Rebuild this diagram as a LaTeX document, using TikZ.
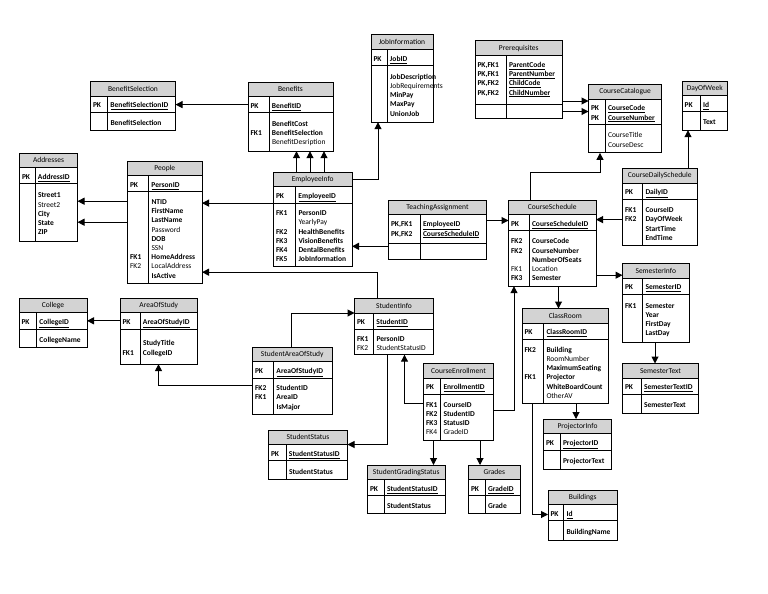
\documentclass[tikz,border=0pt]{standalone}
\usepackage{fontspec}
\setmainfont{Carlito}
\usepackage{tikz}
\usetikzlibrary{arrows.meta}

\definecolor{headGray}{RGB}{211,211,211}

%% key field (bold, underlined)
\newcommand{\pkey}[1]{\textbf{\underline{#1}}}
%% two columns: key labels | field names
\newcommand{\erCols}[2]{\raisebox{-2pt}[\height][\depth]{\begin{tabular}{@{\hspace{2.5pt}}p{\dimexpr#1pt-2.5pt\relax}@{\hspace{3pt}}l@{}}#2\end{tabular}}}
%% name, x, y, width, divider, title, key rows, body rows, body height
\newcommand{\erTable}[9]{%
    \node[erHead, minimum width=#4pt] (#1) at (#2,#3) {#6};
    \node[erRow, text width=#4pt] (#1-k) at (#1.south west) {\erCols{#5}{#7}};
    \node[erRow, text width=#4pt, minimum height=#9pt] (#1-b) at (#1-k.south west) {\erCols{#5}{#8}};
    \draw[erLine] ([xshift=#5]#1-k.north west) -- ([xshift=#5]#1-b.south west);
}

\begin{document}
\begin{tikzpicture}
[x=1pt, y=-1pt,
    font=\fontsize{7.5}{9.2}\selectfont,
    erHead/.style={draw, fill=headGray, line width=1pt, minimum height=14.5pt, inner sep=0pt, outer sep=0pt, anchor=north west},%
    erRow/.style={draw, line width=1pt, inner xsep=0pt, inner ysep=3.5pt, outer sep=0pt, minimum height=16pt, align=left, anchor=north west},%
    erLine/.style={line width=1pt},%
    erLink/.style={line width=1pt, -{Triangle[length=7pt,width=7pt]}}]
    \useasboundingbox (0,0) rectangle (768,594);

    %% employee side
    \erTable{bsel}{90.5}{81.5}{85}{17}{BenefitSelection}{\textbf{PK} & \pkey{BenefitSelectionID}}{ & \textbf{BenefitSelection}}{18.5}
    \erTable{benefits}{248}{82}{85}{21}{Benefits}{\textbf{PK} & \pkey{BenefitID}}{ & \textbf{BenefitCost}\\ \textbf{FK1} & \textbf{BenefitSelection}\\ & BenefitDesription}{38.5}
    \erTable{jobinfo}{371}{35}{62}{16}{JobInformation}{\textbf{PK} & \pkey{JobID}}{ & \textbf{JobDescription}\\ & JobRequirements\\ & \textbf{MinPay}\\ & \textbf{MaxPay}\\ & \textbf{UnionJob}}{56.5}
    \erTable{addr}{19.5}{153}{58}{15.5}{Addresses}{\textbf{PK} & \pkey{AddressID}}{ & \textbf{Street1}\\ & Street2\\ & \textbf{City}\\ & \textbf{State}\\ & \textbf{ZIP}}{57.5}
    \erTable{people}{127.5}{161}{74.5}{21}{People}{\textbf{PK} & \pkey{PersonID}}{ & \textbf{NTID}\\ & \textbf{FirstName}\\ & \textbf{LastName}\\ & Password\\ & \textbf{DOB}\\ & SSN\\ \textbf{FK1} & \textbf{HomeAddress}\\ FK2 & LocalAddress\\ & \textbf{IsActive}}{91.5}
    \erTable{empinfo}{273.5}{172}{78.5}{22}{EmployeeInfo}{\textbf{PK} & \pkey{EmployeeID}}{\textbf{FK1} & \textbf{PersonID}\\ & YearlyPay\\ \textbf{FK2} & \textbf{HealthBenefits}\\ \textbf{FK3} & \textbf{VisionBenefits}\\ \textbf{FK4} & \textbf{DentalBenefits}\\ \textbf{FK5} & \textbf{JobInformation}}{63.5}
    \erTable{teach}{388.5}{200}{98}{31.5}{TeachingAssignment}{\textbf{PK,FK1} & \pkey{EmployeeID}\\ \textbf{PK,FK2} & \pkey{CourseScheduleID}\\[3pt]}{}{16}

    %% course side
    \erTable{prereq}{475}{41}{87.5}{31}{Prerequisites}{\textbf{PK,FK1} & \pkey{ParentCode}\\ \textbf{PK,FK1} & \pkey{ParentNumber}\\ \textbf{PK,FK2} & \pkey{ChildCode}\\ \textbf{PK,FK2} & \pkey{ChildNumber}\\[5pt]}{}{14}
    \erTable{ccat}{588.5}{84.5}{73}{16.5}{CourseCatalogue}{\textbf{PK} & \pkey{CourseCode}\\ \textbf{PK} & \pkey{CourseNumber}}{ & CourseTitle\\ & CourseDesc}{28.5}
    \erTable{dow}{682}{81}{45.5}{18}{DayOfWeek}{\textbf{PK} & \pkey{Id}}{ & \textbf{Text}}{18.5}
    \erTable{csched}{508.5}{200}{87.5}{20.5}{CourseSchedule}{\textbf{PK} & \pkey{CourseScheduleID}}{\textbf{FK2} & \textbf{CourseCode}\\ \textbf{FK2} & \textbf{CourseNumber}\\ & \textbf{NumberOfSeats}\\ FK1 & Location\\ \textbf{FK3} & \textbf{Semester}}{55.5}
    \erTable{cdaily}{622.5}{168.5}{74.5}{20}{CourseDailySchedule}{\textbf{PK} & \pkey{DailyID}}{\textbf{FK1} & \textbf{CourseID}\\ \textbf{FK2} & \textbf{DayOfWeek}\\ & \textbf{StartTime}\\ & \textbf{EndTime}}{46}
    \erTable{seminfo}{622.5}{263.5}{66.5}{20}{SemesterInfo}{\textbf{PK} & \pkey{SemesterID}}{\textbf{FK1} & \textbf{Semester}\\ & \textbf{Year}\\ & \textbf{FirstDay}\\ & \textbf{LastDay}}{48}
    \erTable{semtext}{622.5}{363.5}{76}{18.5}{SemesterText}{\textbf{PK} & \pkey{SemesterTextID}}{ & \textbf{SemesterText}}{19}
    \erTable{classroom}{522}{308.5}{86.5}{21.5}{ClassRoom}{\textbf{PK} & \pkey{ClassRoomID}}{\textbf{FK2} & \textbf{Building}\\ & RoomNumber\\ & \textbf{MaximumSeating}\\ \textbf{FK1} & \textbf{Projector}\\ & \textbf{WhiteBoardCount}\\ & OtherAV}{64.5}
    \erTable{projinfo}{543.5}{419}{68}{16.5}{ProjectorInfo}{\textbf{PK} & \pkey{ProjectorID}}{ & \textbf{ProjectorText}}{19}
    \erTable{buildings}{548}{490}{69.5}{15.5}{Buildings}{\textbf{PK} & \pkey{Id}}{ & \textbf{BuildingName}}{19.5}

    %% student side
    \erTable{college}{19}{298}{68}{17.5}{College}{\textbf{PK} & \pkey{CollegeID}}{ & \textbf{CollegeName}}{18.5}
    \erTable{aos}{120}{298}{77.5}{20}{AreaOfStudy}{\textbf{PK} & \pkey{AreaOfStudyID}}{ & \textbf{StudyTitle}\\ \textbf{FK1} & \textbf{CollegeID}}{35}
    \erTable{stuinfo}{354.5}{298.5}{79}{19}{StudentInfo}{\textbf{PK} & \pkey{StudentID}}{\textbf{FK1} & \textbf{PersonID}\\ FK2 & StudentStatusID}{25.5}
    \erTable{saos}{252.5}{347}{79.5}{21}{StudentAreaOfStudy}{\textbf{PK} & \pkey{AreaOfStudyID}}{\textbf{FK2} & \textbf{StudentID}\\ \textbf{FK1} & \textbf{AreaID}\\ & \textbf{IsMajor}}{36}
    \erTable{enroll}{423.5}{363.5}{70}{17}{CourseEnrollment}{\textbf{PK} & \pkey{EnrollmentID}}{\textbf{FK1} & \textbf{CourseID}\\ \textbf{FK2} & \textbf{StudentID}\\ \textbf{FK3} & \textbf{StatusID}\\ FK4 & GradeID}{46}
    \erTable{studstatus}{268.5}{430}{79}{17.5}{StudentStatus}{\textbf{PK} & \pkey{StudentStatusID}}{ & \textbf{StudentStatus}}{19}
    \erTable{gradstatus}{367.5}{465}{77.5}{16.5}{StudentGradingStatus}{\textbf{PK} & \pkey{StudentStatusID}}{ & \textbf{StudentStatus}}{18}
    \erTable{grades}{468.5}{465}{51.5}{16.5}{Grades}{\textbf{PK} & \pkey{GradeID}}{ & \textbf{Grade}}{18}

    %% employee links
    \draw[erLink] (benefits-k.west) -- (benefits-k.west -| bsel-k.east);
    \coordinate (pa1) at ([yshift=-9.5]people-b.north west);
    \coordinate (pa2) at ([yshift=-30.5]people-b.north west);
    \foreach \c in {pa1,pa2}
    {
        \draw[erLink] (\c) -- (\c -| addr-b.east);
    }
    \draw[erLink] (empinfo-k.south west) -- (empinfo-k.south west -| people-b.east);
    \foreach \dx/\n in {23/eb1, 36.5/eb2, 50.5/eb3}
    {
        \coordinate (\n) at ([xshift=\dx]empinfo.north west);
        \draw[erLink] (\n) -- (\n |- benefits-b.south);
    }
    \coordinate (jb) at ([xshift=7]jobinfo-b.south west);
    \draw[erLink] (empinfo.east) -| (jb);
    \coordinate (ta1) at ([yshift=-3]teach-b.north west);
    \draw[erLink] (ta1) -- (ta1 -| empinfo-b.east);
    \coordinate (ta2) at ([yshift=-6]teach.south east);
    \draw[erLink] (ta2) -- (ta2 -| csched-k.west);

    %% course links
    \coordinate (cd1) at ([yshift=-20]cdaily-b.north west);
    \draw[erLink] (cd1) -- (cd1 -| csched-k.east);
    \coordinate (cs1) at ([xshift=22]csched.north west);
    \coordinate (cc1) at ([xshift=11.5]ccat-b.south west);
    \draw[erLink] (cs1) -- ++(0,-28) -| (cc1);
    \coordinate (cd2) at ([xshift=65.5]cdaily.north west);
    \draw[erLink] (cd2) -- (cd2 |- dow-b.south);
    \coordinate (pr1) at ([yshift=-60]prereq.north east);
    \coordinate (pr2) at ([yshift=-70.5]prereq.north east);
    \foreach \c in {pr1,pr2}
    {
        \draw[erLink] (\c) -- (\c -| ccat-k.west);
    }
    \coordinate (cs2) at ([yshift=-44.5]csched-b.north east);
    \draw[erLink] (cs2) -- (cs2 -| seminfo.west);
    \coordinate (sm1) at ([xshift=32.5]seminfo-b.south west);
    \draw[erLink] (sm1) -- (sm1 |- semtext.north);
    \coordinate (cs3) at ([xshift=50]csched-b.south west);
    \draw[erLink] (cs3) -- (cs3 |- classroom.north);
    \coordinate (cr1) at ([xshift=54]classroom-b.south west);
    \draw[erLink] (cr1) -- (cr1 |- projinfo.north);
    \coordinate (cr2) at ([xshift=10]classroom-b.south west);
    \coordinate (bd1) at ([yshift=-10]buildings-k.north west);
    \draw[erLink] (cr2) |- (bd1);

    %% student links
    \draw[erLink] (aos-k.west) -- (aos-k.west -| college-k.east);
    \coordinate (sa1) at ([yshift=-7]saos-b.north west);
    \coordinate (ao1) at ([xshift=38.5]aos-b.south west);
    \draw[erLink] (sa1) -| (ao1);
    \coordinate (sa2) at ([xshift=39]saos.north west);
    \draw[erLink] (sa2) |- (stuinfo.south west);
    \coordinate (si1) at ([xshift=22.5]stuinfo.north west);
    \coordinate (pp1) at ([yshift=-80.5]people-b.north east);
    \draw[erLink] (si1) |- (pp1);
    \coordinate (si2) at ([xshift=32.5]stuinfo-b.south west);
    \draw[erLink] (si2) |- (studstatus.south east);
    \coordinate (en1) at ([yshift=-9]enroll-b.north west);
    \coordinate (si3) at ([xshift=50]stuinfo-b.south west);
    \draw[erLink] (en1) -| (si3);
    \coordinate (en2) at ([yshift=-16]enroll-b.north east);
    \coordinate (cs4) at ([xshift=5.5]csched-b.south west);
    \draw[erLink] (en2) -| (cs4);
    \coordinate (en3) at ([xshift=10]enroll-b.south west);
    \draw[erLink] (en3) -- (en3 |- gradstatus.north);
    \coordinate (en4) at ([xshift=56.5]enroll-b.south west);
    \draw[erLink] (en4) -- (en4 |- grades.north);
\end{tikzpicture}
\end{document}
